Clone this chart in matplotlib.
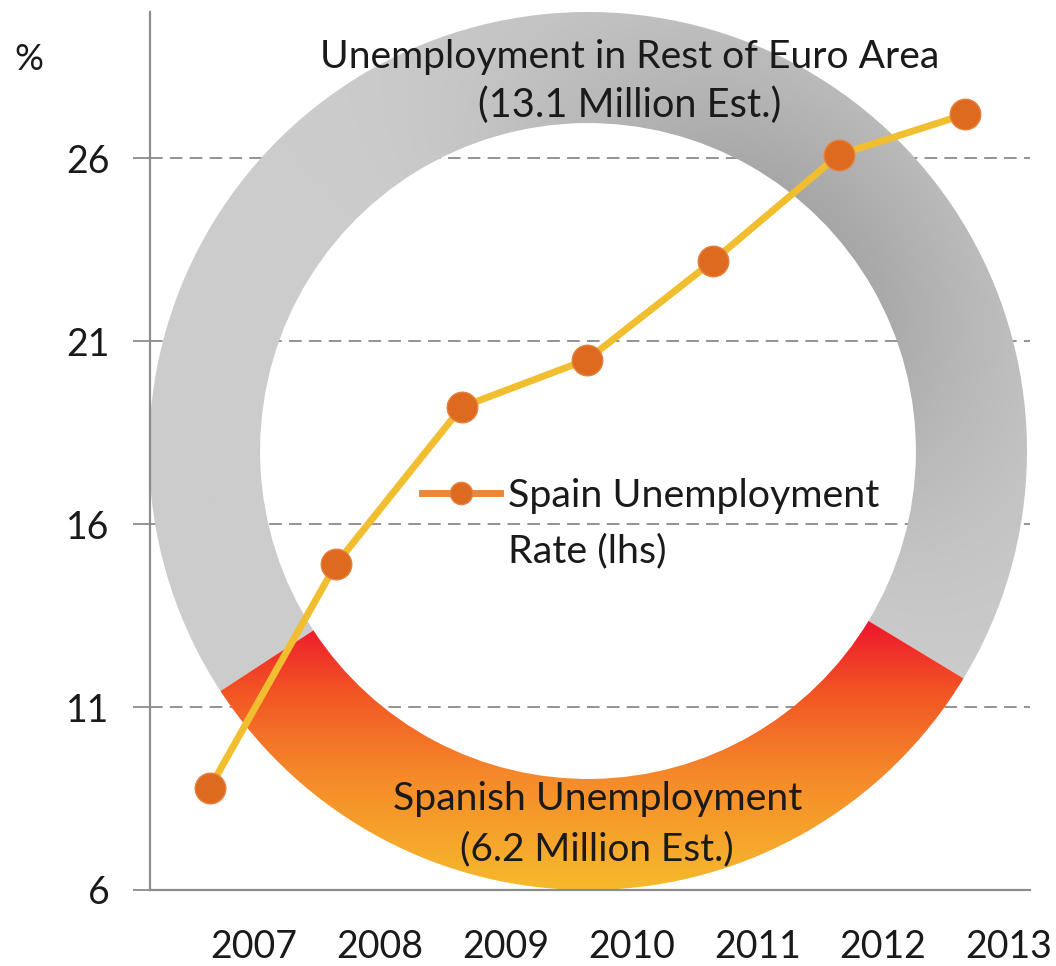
import numpy as np
import matplotlib
matplotlib.use('Agg')
import matplotlib.pyplot as plt
from matplotlib.lines import Line2D
from matplotlib.colors import LinearSegmentedColormap

# ---------------- data ----------------
years = ['2007', '2008', '2009', '2010', '2011', '2012', '2013']
spain_rate = [8.8, 14.9, 19.2, 20.5, 23.2, 26.1, 27.2]
yticks = [6, 11, 16, 21, 26]
donut_values = [13.1, 6.2]          # rest of euro area, Spain (million)
rest_label = ['Unemployment in Rest of Euro Area', '(13.1 Million Est.)']
spain_label = ['Spanish Unemployment', '(6.2 Million Est.)']
legend_label = ['Spain Unemployment', 'Rate (lhs)']

FONT = ['Lato', 'DejaVu Sans']
plt.rcParams['font.family'] = FONT
TXT = '#1A1A1A'

W, H = 1056, 966
fig = plt.figure(figsize=(W / 100, H / 100), dpi=100)
fig.patch.set_facecolor('white')


def fx(px):
    return px / W


def fy(py):
    return 1 - py / H


ax_rect = [fx(150), fy(890), (1030 - 150) / W, (890 - 12) / H]
xlim = (-0.477, 6.518)
ylim = (6, 30)

# ---- gridlines (bottom layer) ----
gax = fig.add_axes(ax_rect, zorder=1)
gax.set_xlim(*xlim)
gax.set_ylim(*ylim)
gax.set_yticks(yticks)
gax.set_xticks([])
gax.tick_params(left=False, labelleft=False)
for s in gax.spines.values():
    s.set_visible(False)
gax.grid(axis='y', color='#8A8A8A', linestyle=(0, (7, 4)), linewidth=1.3)
gax.patch.set_alpha(0)

# ---- donut (middle layer) ----
R_PX, CX, CY = 439, 588, 451
dax = fig.add_axes([fx(CX - R_PX), fy(CY + R_PX), 2 * R_PX / W, 2 * R_PX / H], zorder=2)
wedges, _ = dax.pie(donut_values, startangle=-31.2, counterclock=True, radius=1,
                    wedgeprops=dict(width=0.253, linewidth=0))
dax.set_xlim(-1, 1)
dax.set_ylim(-1, 1)
dax.set_aspect('equal')
dax.axis('off')

N = 700
g = np.linspace(-1, 1, N)
X, Y = np.meshgrid(g, g)
theta = np.degrees(np.arctan2(Y, X))
shade = np.clip(np.cos(np.radians(theta - 45)), 0, None) ** 1.8
rr = np.sqrt(X ** 2 + Y ** 2)
gray = 0.80 - 0.13 * shade * (1.15 - 0.6 * np.clip((rr - 0.747) / 0.253, 0, 1))
gray_img = np.dstack([gray, gray, gray])
im1 = dax.imshow(gray_img, extent=[-1, 1, -1, 1], origin='lower', zorder=3,
                 interpolation='bilinear')
im1.set_clip_path(wedges[0])

cmap = LinearSegmentedColormap.from_list('sp', [
    (0.0, '#F6BA2C'), (0.45, '#F5872A'), (0.75, '#F25524'), (1.0, '#EE1B2D')])
t = np.clip((Y + 1.0) / 0.60, 0, 1)
im2 = dax.imshow(cmap(t), extent=[-1, 1, -1, 1], origin='lower', zorder=3,
                 interpolation='bilinear')
im2.set_clip_path(wedges[1])
for w in wedges:
    w.set_facecolor('none')

# ---- main axes (top layer) ----
ax = fig.add_axes(ax_rect, zorder=3)
ax.patch.set_alpha(0)
ax.set_xlim(*xlim)
ax.set_ylim(*ylim)
xpos = np.arange(len(years))
ax.plot(xpos, spain_rate, color='#F1BE30', linewidth=5, solid_capstyle='round',
        marker='o', markersize=22, markerfacecolor='#DE6A1F',
        markeredgecolor='#E5813F', markeredgewidth=1.0, zorder=5)

for side in ['top', 'right']:
    ax.spines[side].set_visible(False)
for side in ['left', 'bottom']:
    ax.spines[side].set_color('#8C8C8C')
    ax.spines[side].set_linewidth(1.6)
ax.set_yticks(yticks)
ax.set_yticklabels([str(v) for v in yticks])
ax.tick_params(axis='y', direction='out', length=12, width=1.3, color='#8C8C8C',
               pad=17, labelsize=27, labelcolor=TXT)
ax.set_xticks(xpos + 0.35)
ax.set_xticklabels(years)
ax.tick_params(axis='x', length=0, pad=28, labelsize=27, labelcolor=TXT)

renderer = fig.canvas.get_renderer()


def fit_text(x_px, y_px, s, width_px, ha='center'):
    tt = fig.text(fx(x_px), fy(y_px), s, ha=ha, va='baseline', fontsize=20,
                  color=TXT, zorder=10)
    w = tt.get_window_extent(renderer).width
    fs = 20 * width_px / w
    tt.set_fontsize(fs)
    return tt, fs


fit_text(630, 68, rest_label[0], 620)
fit_text(630, 117, rest_label[1], 303)
fit_text(598, 810, spain_label[0], 410)
fit_text(597, 860, spain_label[1], 273)
fig.text(fx(29), fy(70), '%', ha='center', va='baseline', fontsize=26, color=TXT)

# legend
probe = fig.text(0, 0, legend_label[0], fontsize=20)
lw_ = probe.get_window_extent(renderer).width
probe.remove()
leg_fs = 20 * 372 / lw_
handle = Line2D([], [], color='#E9883B', linewidth=5, marker='o', markersize=16,
                markerfacecolor='#DE6A1F', markeredgecolor='#E5813F')
leg_px = leg_fs * 100 / 72
leg = ax.legend(handles=[handle], labels=[legend_label[0]], frameon=False,
                fontsize=leg_fs, handlelength=78 / leg_px, handletextpad=8 / leg_px,
                borderpad=0, borderaxespad=0, loc='upper left',
                bbox_to_anchor=(fx(422), fy(478)), bbox_transform=fig.transFigure)
for tx in leg.get_texts():
    tx.set_color(TXT)
fig.text(fx(508), fy(562), legend_label[1], ha='left', va='baseline',
         fontsize=leg_fs, color=TXT)

fig.savefig('out.png', dpi=100)
